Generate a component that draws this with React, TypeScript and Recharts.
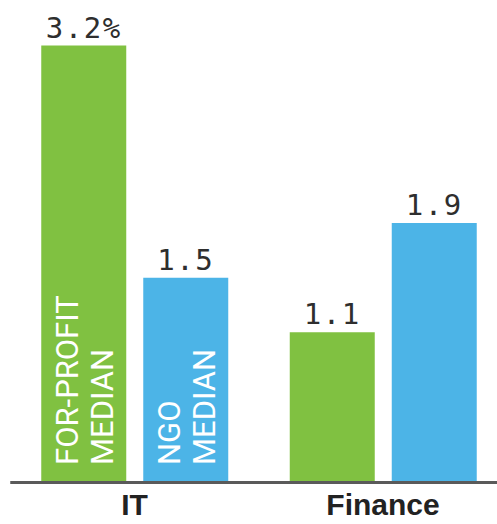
import React from "react";
import { BarChart, Bar, XAxis, YAxis, LabelList } from "recharts";

const categories = ["IT", "Finance"];
const forProfitValues = [3.2, 1.1];
const ngoValues = [1.5, 1.9];
const forProfitLabels = ["3.2%", "1.1"];
const ngoLabels = ["1.5", "1.9"];
const forProfitInner = ["FOR-PROFIT|MEDIAN", ""];
const ngoInner = ["NGO|MEDIAN", ""];

const data = categories.map((c, i) => ({
  name: c,
  forProfit: forProfitValues[i],
  ngo: ngoValues[i],
  fpLabel: forProfitLabels[i],
  ngoLabel: ngoLabels[i],
  fpInner: forProfitInner[i],
  ngoInner: ngoInner[i],
}));

const GREEN = "#80c141";
const BLUE = "#4cb4e7";

const renderInner = (props: any) => {
  const vb = props.viewBox || props;
  const x = Number(vb.x ?? props.x);
  const y = Number(vb.y ?? props.y);
  const height = Number(vb.height ?? props.height);
  const value = props.value;
  if (!value) return null;
  const lines = String(value).split("|");
  const bottom = y + height;
  return (
    <g>
      {lines.map((l, i) => (
        <text
          key={i}
          x={0}
          y={0}
          transform={`translate(${x + 37 + i * 34.5}, ${bottom - 17.5}) rotate(-90)`}
          fill="#ffffff"
          fontSize={31}
          fontFamily="Roboto, 'Liberation Sans', sans-serif"
          textAnchor="start"
        >
          {l}
        </text>
      ))}
    </g>
  );
};

const valueLabelStyle = {
  fill: "#2e2e2e",
  fontSize: 29,
  fontFamily: "'DejaVu Sans Mono', monospace",
  letterSpacing: 1.5,
};

export default function App() {
  return (
    <div
      style={{
        position: "absolute",
        left: 0,
        top: 0,
        width: 497,
        height: 524,
        overflow: "hidden",
        background: "#ffffff",
      }}
    >
      <BarChart
        width={507.25}
        height={524}
        data={data}
        margin={{ top: 45.5, right: 0, left: 10.25, bottom: 0 }}
        barSize={85}
        barGap={17}
      >
        <YAxis hide width={0} domain={[0, 3.2]} />
        <XAxis
          dataKey="name"
          height={41.5}
          axisLine={{ stroke: "#5a5a5a", strokeWidth: 3 }}
          tickLine={false}
          tickSize={0}
          tickMargin={11}
          interval={0}
          tick={{
            fill: "#222222",
            fontSize: 30,
            fontWeight: 700,
            fontFamily: "'Liberation Sans', Arial, sans-serif",
          }}
        />
        <Bar dataKey="forProfit" fill={GREEN} isAnimationActive={false}>
          <LabelList dataKey="fpLabel" position="top" offset={8} style={valueLabelStyle} />
          <LabelList dataKey="fpInner" content={renderInner} />
        </Bar>
        <Bar dataKey="ngo" fill={BLUE} isAnimationActive={false}>
          <LabelList dataKey="ngoLabel" position="top" offset={8} style={valueLabelStyle} />
          <LabelList dataKey="ngoInner" content={renderInner} />
        </Bar>
      </BarChart>
    </div>
  );
}
